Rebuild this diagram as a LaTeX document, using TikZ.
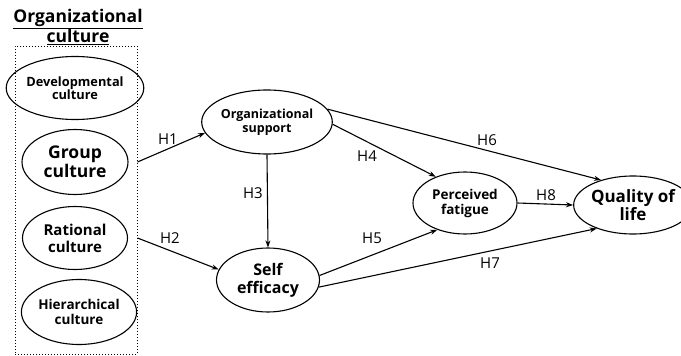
\documentclass[tikz,border=0pt]{standalone}
\usepackage{fontspec}
\setmainfont{Open Sans}
\usetikzlibrary{arrows.meta,positioning,shapes.geometric}

\begin{document}
\begin{tikzpicture}[x=1pt,y=-1pt,>={Stealth[length=7pt,width=5pt]},
  var/.style={draw,ellipse,line width=1.1pt,inner sep=0pt,align=center,
              minimum width=104pt,minimum height=63pt},
  hyp/.style={->,line width=1.1pt},
  lab/.style={font=\fontsize{15}{15}\selectfont}]
\useasboundingbox (0,0) rectangle (681,356);

% organizational culture block
\node[align=center,font=\bfseries\fontsize{17.5}{20}\selectfont] (title) at (78,27)
  {\underline{Organizational}\\\underline{culture}};
\node[draw,dotted,line width=1pt,minimum width=122pt,minimum height=308pt,inner sep=0pt] (oc) at (76,200) {};

\node[var,minimum width=106pt,font=\bfseries\fontsize{12.8}{13.5}\selectfont] (dev) at (75,88) {Developmental\\culture};
\node[var,minimum width=106pt,minimum height=65pt,font=\bfseries\fontsize{17.5}{19}\selectfont] (grp) at (75,162) {Group\\culture};
\node[var,minimum width=105pt,font=\bfseries\fontsize{15}{17}\selectfont] (rat) at (75,238) {Rational\\culture};
\node[var,minimum height=65pt,font=\bfseries\fontsize{13.5}{15}\selectfont] (hie) at (79,312) {Hierarchical\\culture};

% mediators and outcome
\node[var,minimum width=103pt,minimum height=64pt,font=\bfseries\fontsize{12.5}{14}\selectfont] (orgsup) at (267,122) {Organizational\\support};
\node[var,minimum width=103pt,minimum height=64pt,font=\bfseries\fontsize{16}{18}\selectfont] (selfeff) at (268,280) {Self\\efficacy};
\node[var,minimum height=62pt,font=\bfseries\fontsize{13.5}{15}\selectfont] (fatigue) at (465,203) {Perceived\\fatigue};
\node[var,minimum width=92pt,minimum height=58pt,font=\bfseries\fontsize{17}{17.5}\selectfont] (qol) at (633,205) {Quality of\\life};

% hypotheses
\draw[hyp] (oc.east |- grp) -- (orgsup.190);
\draw[hyp] (oc.east |- rat) -- (selfeff.168);
\draw[hyp] (orgsup.south) -- (selfeff.north);
\draw[hyp] (orgsup.-2) -- (fatigue.138);
\draw[hyp] (orgsup.12) -- (qol.142);
\draw[hyp] (selfeff.5) -- (fatigue.224);
\draw[hyp] (selfeff.-8) -- (qol.213);
\draw[hyp] (fatigue.east) -- (qol.west);

\node[lab] (h1) at (168,139) {H1};
\node[lab] (h2) at (170,238) {H2};
\node[lab] (h3) at (253,193) {H3};
\node[lab] (h4) at (367,156) {H4};
\node[lab] (h5) at (372,238) {H5};
\node[lab] (h6) at (487,140) {H6};
\node[lab] (h7) at (490,263) {H7};
\node[lab] (h8) at (546,195) {H8};
\end{tikzpicture}
\end{document}
